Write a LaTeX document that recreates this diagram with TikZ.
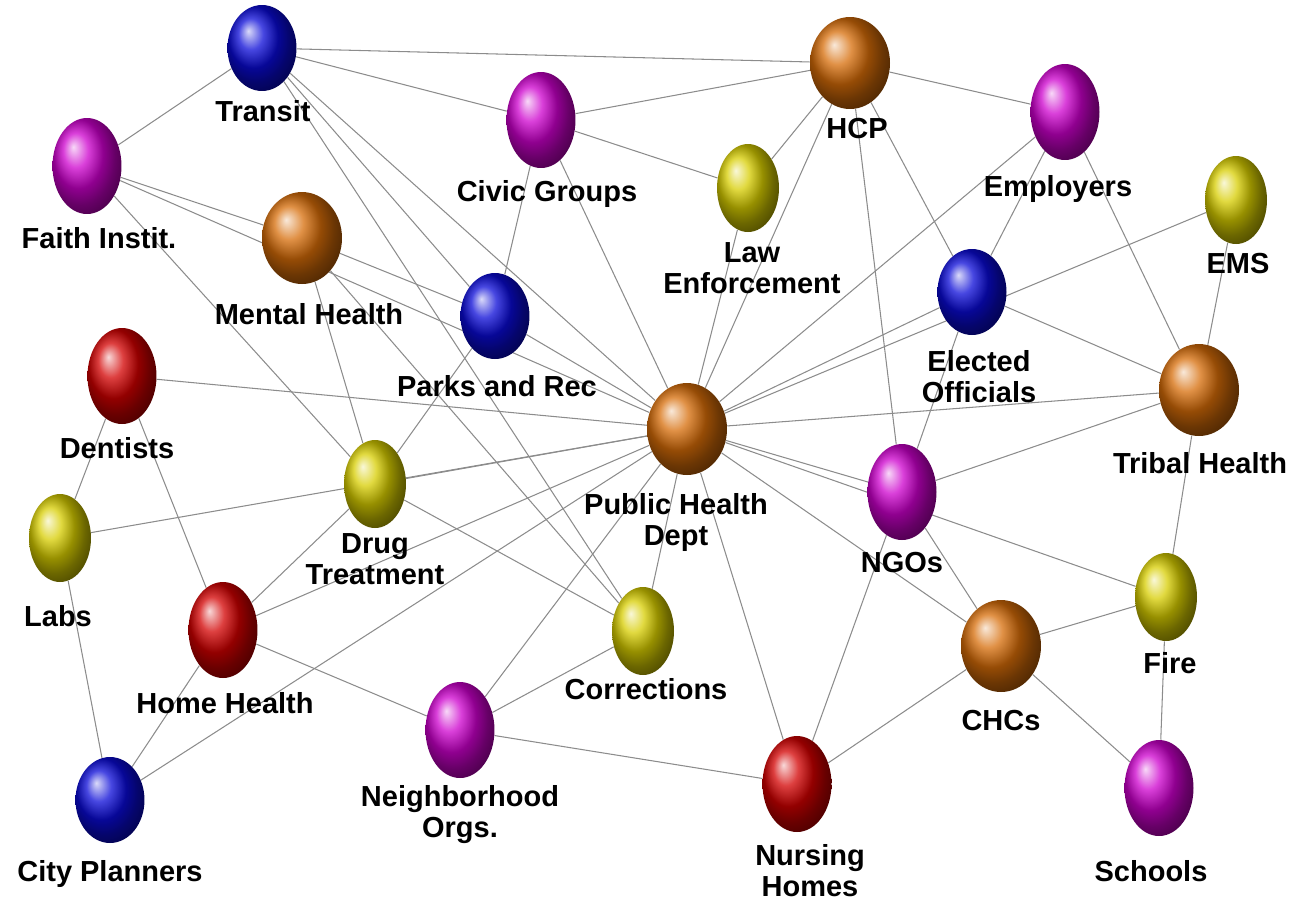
\documentclass[tikz,border=0pt]{standalone}
\usepackage{fontspec}
\setmainfont{Liberation Sans}
\usetikzlibrary{shapes.geometric,backgrounds}

\definecolor{orangecol}{RGB}{214,108,8}
\definecolor{bluecol}{RGB}{10,10,215}
\definecolor{pinkcol}{RGB}{205,0,205}
\definecolor{yellowcol}{RGB}{215,205,0}
\definecolor{redcol}{RGB}{210,0,0}

\begin{document}
\begin{tikzpicture}[x=0.02cm,y=-0.02cm,
    sphere/.style={ellipse,inner sep=0pt,shading=ball},
    orangeball/.style={sphere,ball color=orangecol,minimum width=1.6cm,minimum height=1.84cm},
    blueball/.style={sphere,ball color=bluecol,minimum width=1.38cm,minimum height=1.72cm},
    pinkball/.style={sphere,ball color=pinkcol,minimum width=1.38cm,minimum height=1.92cm},
    redball/.style={sphere,ball color=redcol,minimum width=1.38cm,minimum height=1.92cm},
    yellowball/.style={sphere,ball color=yellowcol,minimum width=1.24cm,minimum height=1.76cm},
    lbl/.style={anchor=north,inner sep=0pt,align=center,
      font=\fontsize{16.5}{18}\selectfont\bfseries},
    link/.style={draw=gray!90,line width=0.6pt}]
  \useasboundingbox (0,0) rectangle (1295,904);
  % agencies: name/kind/position/label position/label
  \foreach \name/\kind/\pos/\lpos/\txt in
{{transit/blueball/(262,48)/(263,100)/Transit},
 {faith/pinkball/(87,166)/(99,227)/Faith Instit.},
 {civic/pinkball/(541,120)/(547,180)/Civic Groups},
 {law/yellowball/(748,188)/(752,242)/Law\\Enforcement},
 {hcp/orangeball/(850,63)/(857,118)/HCP},
 {employ/pinkball/(1065,112)/(1058,175)/Employers},
 {ems/yellowball/(1236,200)/(1238,253)/EMS},
 {elected/blueball/(972,292)/(979,350)/Elected\\Officials},
 {tribal/orangeball/(1199,390)/(1200,452)/Tribal Health},
 {ngos/pinkball/(902,492)/(902,552)/NGOs},
 {fire/yellowball/(1166,597)/(1170,652)/Fire},
 {chcs/orangeball/(1001,646)/(1001,710)/CHCs},
 {schools/pinkball/(1159,788)/(1151,860)/Schools},
 {nursing/redball/(797,784)/(810,844)/Nursing\\Homes},
 {neigh/pinkball/(460,730)/(460,785)/Neighborhood\\Orgs.},
 {correct/yellowball/(643,631)/(646,678)/Corrections},
 {home/redball/(223,630)/(225,692)/Home Health},
 {city/blueball/(110,800)/(110,860)/City Planners},
 {labs/yellowball/(60,538)/(58,605)/Labs},
 {dentists/redball/(122,376)/(117,437)/Dentists},
 {drug/yellowball/(375,484)/(375,533)/Drug\\Treatment},
 {phd/orangeball/(687,429)/(676,493)/Public Health\\Dept},
 {parks/blueball/(495,316)/(497,375)/Parks and Rec},
 {mental/orangeball/(302,238)/(309,303)/Mental Health}}
  {
    \node[\kind] (\name) at \pos {};
    \node[lbl] (\name txt) at \lpos {\txt};
  }
  \begin{pgfonlayer}{background}
  \foreach \src/\tgt in {transit/hcp,transit/faith,transit/civic,transit/parks,
      transit/phd,transit/correct,civic/hcp,civic/law,civic/parks,civic/phd,
      hcp/employ,hcp/law,hcp/phd,hcp/elected,hcp/ngos,employ/phd,employ/elected,
      employ/tribal,ems/phd,ems/tribal,elected/phd,elected/tribal,elected/ngos,
      faith/mental,faith/phd,faith/drug,mental/parks,mental/drug,mental/correct,
      parks/phd,parks/drug,dentists/phd,dentists/labs,dentists/home,law/phd,
      tribal/phd,tribal/ngos,tribal/fire,drug/phd,labs/phd,drug/home,drug/correct,
      phd/home,phd/city,phd/neigh,phd/correct,phd/nursing,phd/chcs,phd/ngos,
      phd/fire,ngos/chcs,ngos/nursing,chcs/fire,chcs/schools,chcs/nursing,
      fire/schools,labs/city,home/city,home/neigh,neigh/correct,neigh/nursing}
    \draw[link] (\src) -- (\tgt);
  \end{pgfonlayer}
\end{tikzpicture}
\end{document}
